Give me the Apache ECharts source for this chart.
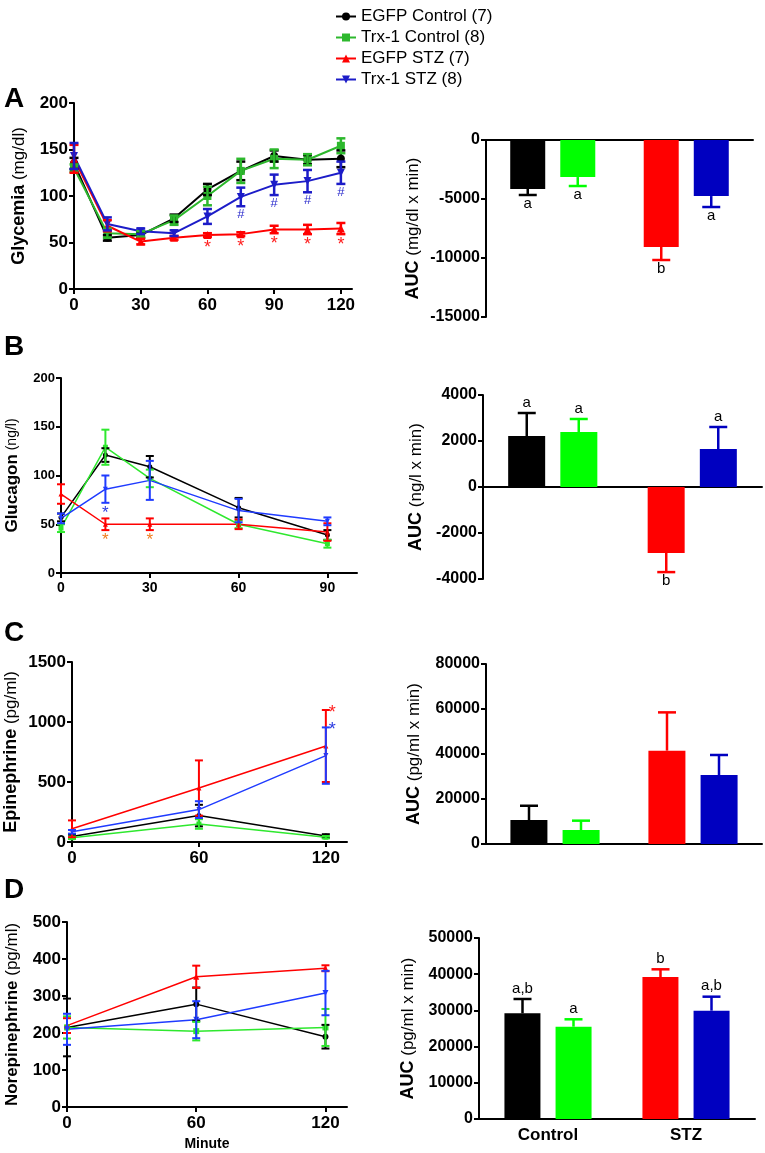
<!DOCTYPE html>
<html><head><meta charset="utf-8">
<script src="https://cdn.jsdelivr.net/npm/echarts@6/dist/echarts.min.js"></script>
<style>html,body{margin:0;padding:0;background:#fff}#c{width:765px;height:1153px}</style>
</head><body><div id="c"></div>
<script>
// ---------------- DATA ----------------
const groupNames = ['EGFP Control (7)', 'Trx-1 Control (8)', 'EGFP STZ (7)', 'Trx-1 STZ (8)'];
const aucCats = ['Control', 'STZ'];

// Panel A - glycemia
const timeA = [0, 15, 30, 45, 60, 75, 90, 105, 120];
const ticksA = [0, 30, 60, 90, 120];
const glyEgfpCtrl = [135, 55, 58, 76, 107, 127, 143, 139, 140];
const glyEgfpCtrlSem = [6, 3, 3, 4, 6, 10, 6, 5, 9];
const glyTrxCtrl = [130, 60, 59, 74, 100, 127, 140, 139, 154];
const glyTrxCtrlSem = [4, 5, 3, 5, 10, 13, 10, 6, 8];
const glyEgfpStz = [140, 68, 51, 55, 58, 59, 64, 64, 65];
const glyEgfpStzSem = [15, 6, 3, 2, 2, 2, 4, 5, 6];
const glyTrxStz = [143, 70, 62, 60, 78, 99, 112, 116, 125];
const glyTrxStzSem = [14, 7, 3, 3, 8, 10, 11, 12, 12];
const glyEgfpStzSig = ['', '', '', '', '*', '*', '*', '*', '*'];
const glyTrxStzSig = ['', '', '', '', '', '#', '#', '#', '#'];
const aucGlyEgfp = [-4150, -9070];
const aucGlyEgfpSem = [510, 1100];
const aucGlyTrx = [-3140, -4750];
const aucGlyTrxSem = [760, 930];
const aucGlyEgfpLetters = ['a', 'b'];
const aucGlyTrxLetters = ['a', 'a'];

// Panel B - glucagon
const timeB = [0, 15, 30, 60, 90];
const ticksB = [0, 30, 60, 90];
const glcEgfpCtrl = [57, 121, 109, 67, 39];
const glcEgfpCtrlSem = [4, 7, 11, 10, 5];
const glcTrxCtrl = [46, 129, 97, 50, 30];
const glcTrxCtrlSem = [4, 18, 9, 4, 4];
const glcEgfpStz = [81, 50, 50, 50, 42];
const glcEgfpStzSem = [10, 6, 6, 5, 9];
const glcTrxStz = [56, 86, 95, 64, 53];
const glcTrxStzSem = [5, 14, 20, 12, 4];
const glcEgfpStzSig = ['', '*', '*', '', ''];
const glcTrxStzSig = ['', '*', '', '', ''];
const aucGlcEgfp = [2217, -2870];
const aucGlcEgfpSem = [1000, 830];
const aucGlcTrx = [2391, 1652];
const aucGlcTrxSem = [566, 957];
const aucGlcEgfpLetters = ['a', 'b'];
const aucGlcTrxLetters = ['a', 'a'];

// Panel C - epinephrine
const timeC = [0, 60, 120];
const ticksC = [0, 60, 120];
const epiEgfpCtrl = [45, 220, 50];
const epiEgfpCtrlSem = [15, 90, 15];
const epiTrxCtrl = [35, 150, 40];
const epiTrxCtrlSem = [10, 40, 10];
const epiEgfpStz = [110, 450, 800];
const epiEgfpStzSem = [70, 230, 300];
const epiTrxStz = [85, 270, 720];
const epiTrxStzSem = [15, 70, 235];
const epiEgfpStzSig = ['', '', '*'];
const epiTrxStzSig = ['', '', '*'];
const aucEpiEgfp = [10670, 41480];
const aucEpiEgfpSem = [6330, 17020];
const aucEpiTrx = [6220, 30670];
const aucEpiTrxSem = [4150, 8890];

// Panel D - norepinephrine
const timeD = [0, 60, 120];
const ticksD = [0, 60, 120];
const nepEgfpCtrl = [215, 278, 190];
const nepEgfpCtrlSem = [78, 45, 32];
const nepTrxCtrl = [215, 205, 215];
const nepTrxCtrlSem = [30, 25, 50];
const nepEgfpStz = [220, 352, 375];
const nepEgfpStzSem = [20, 30, 8];
const nepTrxStz = [210, 236, 308];
const nepTrxStzSem = [42, 50, 60];
const aucNepEgfp = [29200, 39230];
const aucNepEgfpSem = [3950, 2120];
const aucNepTrx = [25500, 29920];
const aucNepTrxSem = [2040, 3870];
const aucNepEgfpLetters = ['a,b', 'b'];
const aucNepTrxLetters = ['a', 'a,b'];

// ---------------- STYLE ----------------
const FONT = "'Liberation Sans', Arial, Helvetica, sans-serif";
const LINE_COLORS_A = ['#000000', '#2db82d', '#ff0000', '#1c1cc8'];
const LINE_COLORS = ['#000000', '#2ee82e', '#ff0000', '#1f3bff'];
const BAR_COLORS_EGFP = ['#000000', '#ff0000'];
const BAR_COLORS_TRX = ['#00ff00', '#0000c0'];
const SYMBOLS = ['circle', 'rect', 'triangle', 'path://M0,0L10,0L5,9Z'];

const grid = [], xAxis = [], yAxis = [], series = [];

function richName(bold, normal, bs, ns) {
  return {
    name: '{b|' + bold + '} {n|' + normal + '}',
    nameLocation: 'middle',
    nameTextStyle: {
      color: '#000', fontFamily: FONT, fontSize: ns,
      rich: {
        b: { fontWeight: 'bold', fontSize: bs, fontFamily: FONT, color: '#000' },
        n: { fontSize: ns, fontFamily: FONT, color: '#000' }
      }
    }
  };
}
const AX_LINE = { lineStyle: { color: '#000', width: 2 } };
const AX_TICK = { show: true, length: 5, lineStyle: { color: '#000', width: 2 } };
const fmt = v => String(v);

function lineErr(gi, xs, ys, sems, sigs, color, sigColor, sigFont, capW, lw, sigMode) {
  return {
    type: 'custom', xAxisIndex: gi, yAxisIndex: gi, z: 4, silent: true, clip: false,
    animation: false,
    data: xs.map((x, i) => [x, ys[i], sems[i]]),
    encode: { x: 0, y: 1 },
    renderItem: (params, api) => {
      const i = params.dataIndex;
      const x = api.value(0), y = api.value(1), e = api.value(2);
      const t = api.coord([x, y + e]), b = api.coord([x, y - e]);
      const st = { stroke: color, lineWidth: lw };
      const ch = [
        { type: 'line', shape: { x1: t[0], y1: t[1], x2: b[0], y2: b[1] }, style: st },
        { type: 'line', shape: { x1: t[0] - capW / 2, y1: t[1], x2: t[0] + capW / 2, y2: t[1] }, style: st },
        { type: 'line', shape: { x1: b[0] - capW / 2, y1: b[1], x2: b[0] + capW / 2, y2: b[1] }, style: st }
      ];
      const s = sigs && sigs[i];
      if (s) {
        if (sigMode === 'below') {
          ch.push({ type: 'text', x: b[0], y: b[1] + 2, style: { text: s, fill: sigColor, font: sigFont, align: 'center', verticalAlign: 'top' } });
        } else {
          ch.push({ type: 'text', x: t[0] + 3, y: t[1] + 3, style: { text: s, fill: sigColor, font: sigFont, align: 'left', verticalAlign: 'middle' } });
        }
      }
      return { type: 'group', children: ch };
    }
  };
}

function addLinePanel(c) {
  const gi = grid.length;
  grid.push(c.grid);
  xAxis.push(Object.assign({
    type: 'value', gridIndex: gi, min: 0, max: c.xMax, interval: c.xTicks[1] - c.xTicks[0],
    axisLine: Object.assign({ onZero: false }, AX_LINE),
    axisTick: Object.assign({ customValues: c.xTicks }, AX_TICK),
    axisLabel: { color: '#000', fontWeight: 'bold', fontSize: c.xFs, fontFamily: FONT, margin: 8, customValues: c.xTicks, formatter: fmt },
    splitLine: { show: false }
  }, c.xName || {}));
  yAxis.push(Object.assign({
    type: 'value', gridIndex: gi, min: 0, max: c.yMax, interval: c.yInt,
    axisLine: Object.assign({ show: true, onZero: false }, AX_LINE),
    axisTick: AX_TICK,
    axisLabel: { color: '#000', fontWeight: 'bold', fontSize: c.yFs, fontFamily: FONT, margin: 6, formatter: fmt },
    splitLine: { show: false },
    nameGap: c.nameGap
  }, richName(c.yBold, c.yNormal, c.nameBs, c.nameNs)));
  c.ys.forEach((ys, k) => {
    series.push({
      type: 'line', name: groupNames[k], xAxisIndex: gi, yAxisIndex: gi,
      data: c.x.map((x, i) => [x, ys[i]]),
      symbol: SYMBOLS[k], symbolSize: c.sym, showSymbol: true,
      lineStyle: { color: c.colors[k], width: c.lw },
      itemStyle: { color: c.colors[k] }, z: 2, animation: false
    });
    series.push(lineErr(gi, c.x, ys, c.sems[k], c.sigs ? c.sigs[k] : null, c.colors[k],
      c.sigColors ? c.sigColors[k] : c.colors[k], c.sigFonts ? c.sigFonts[k] : '', c.capW, c.errLw, c.sigMode));
  });
}

function barErr(gi, vals, sems, letters, cols, off, capW, lw) {
  return {
    type: 'custom', xAxisIndex: gi, yAxisIndex: gi, z: 4, silent: true, clip: false,
    animation: false,
    data: vals.map((v, i) => [i, v, sems[i]]),
    encode: { x: 0, y: 1 },
    renderItem: (params, api) => {
      const i = params.dataIndex;
      const v = vals[i], e = sems[i];
      const base = api.coord([i, v]);
      const end = api.coord([i, v >= 0 ? v + e : v - e]);
      const x = base[0] + off;
      const st = { stroke: cols[i], lineWidth: lw };
      const ch = [
        { type: 'line', shape: { x1: x, y1: base[1], x2: x, y2: end[1] }, style: st },
        { type: 'line', shape: { x1: x - capW / 2, y1: end[1], x2: x + capW / 2, y2: end[1] }, style: st }
      ];
      const L = letters && letters[i];
      if (L) {
        ch.push({ type: 'text', x: x, y: v >= 0 ? end[1] - 3 : end[1] + 1,
          style: { text: L, fill: '#000', font: '15px ' + FONT, align: 'center', verticalAlign: v >= 0 ? 'bottom' : 'top' } });
      }
      return { type: 'group', children: ch };
    }
  };
}

function addBarPanel(c) {
  const gi = grid.length;
  grid.push(c.grid);
  xAxis.push({
    type: 'category', gridIndex: gi, data: aucCats,
    axisLine: Object.assign({ onZero: true }, AX_LINE),
    axisTick: { show: false },
    axisLabel: c.showCats ? { color: '#000', fontWeight: 'bold', fontSize: 17, fontFamily: FONT, margin: 8 } : { show: false },
    splitLine: { show: false }
  });
  yAxis.push(Object.assign({
    type: 'value', gridIndex: gi, min: c.yMin, max: c.yMax, interval: c.yInt,
    axisLine: Object.assign({ show: true, onZero: false }, AX_LINE),
    axisTick: AX_TICK,
    axisLabel: { color: '#000', fontWeight: 'bold', fontSize: 16, fontFamily: FONT, margin: 6, formatter: fmt },
    splitLine: { show: false },
    nameGap: c.nameGap
  }, richName('AUC', c.unit, 18, 17)));
  const half = (c.bw + c.gap) / 2;
  [[c.egfp, c.egfpSem, c.egfpLetters, BAR_COLORS_EGFP, -half],
   [c.trx, c.trxSem, c.trxLetters, BAR_COLORS_TRX, half]].forEach(([vals, sems, letters, cols, off]) => {
    series.push({
      type: 'bar', xAxisIndex: gi, yAxisIndex: gi, barWidth: c.bw,
      barGap: Math.round(c.gap / c.bw * 100) + '%', animation: false,
      data: vals.map((v, i) => ({ value: v, itemStyle: { color: cols[i] } }))
    });
    series.push(barErr(gi, vals, sems, letters, cols, off, 18, 2.5));
  });
}

// ---------------- PANELS ----------------
addLinePanel({
  grid: { left: 74, top: 103, width: 278, height: 186 },
  x: timeA, xMax: 125, xTicks: ticksA, xFs: 17,
  yMax: 200, yInt: 50, yFs: 17,
  yBold: 'Glycemia', yNormal: '(mg/dl)', nameBs: 18, nameNs: 17, nameGap: 46,
  ys: [glyEgfpCtrl, glyTrxCtrl, glyEgfpStz, glyTrxStz],
  sems: [glyEgfpCtrlSem, glyTrxCtrlSem, glyEgfpStzSem, glyTrxStzSem],
  sigs: [null, null, glyEgfpStzSig, glyTrxStzSig],
  sigColors: [null, null, '#ff2020', '#2a2acc'],
  sigFonts: ['', '', '18px ' + FONT, '13px ' + FONT],
  sigMode: 'below',
  colors: LINE_COLORS_A, sym: 8, lw: 2, capW: 9, errLw: 2.5
});
addBarPanel({
  grid: { left: 486, top: 140, width: 267, height: 177 },
  yMin: -15000, yMax: 0, yInt: 5000, unit: '(mg/dl x min)', nameGap: 64,
  egfp: aucGlyEgfp, egfpSem: aucGlyEgfpSem, egfpLetters: aucGlyEgfpLetters,
  trx: aucGlyTrx, trxSem: aucGlyTrxSem, trxLetters: aucGlyTrxLetters,
  bw: 35, gap: 15
});
addLinePanel({
  grid: { left: 61, top: 378, width: 296, height: 195 },
  x: timeB, xMax: 100, xTicks: ticksB, xFs: 14,
  yMax: 200, yInt: 50, yFs: 13,
  yBold: 'Glucagon', yNormal: '(ng/l)', nameBs: 17, nameNs: 14, nameGap: 40,
  ys: [glcEgfpCtrl, glcTrxCtrl, glcEgfpStz, glcTrxStz],
  sems: [glcEgfpCtrlSem, glcTrxCtrlSem, glcEgfpStzSem, glcTrxStzSem],
  sigs: [null, null, glcEgfpStzSig, glcTrxStzSig],
  sigColors: [null, null, '#f07d1f', '#2a3ae0'],
  sigFonts: ['', '', '17px ' + FONT, '17px ' + FONT],
  sigMode: 'below',
  colors: LINE_COLORS, sym: 5, lw: 1.5, capW: 8, errLw: 2
});
addBarPanel({
  grid: { left: 483, top: 395, width: 279, height: 184 },
  yMin: -4000, yMax: 4000, yInt: 2000, unit: '(ng/l x min)', nameGap: 58,
  egfp: aucGlcEgfp, egfpSem: aucGlcEgfpSem, egfpLetters: aucGlcEgfpLetters,
  trx: aucGlcTrx, trxSem: aucGlcTrxSem, trxLetters: aucGlcTrxLetters,
  bw: 37, gap: 15
});
addLinePanel({
  grid: { left: 72, top: 662, width: 275, height: 180 },
  x: timeC, xMax: 130, xTicks: ticksC, xFs: 17,
  yMax: 1500, yInt: 500, yFs: 17,
  yBold: 'Epinephrine', yNormal: '(pg/ml)', nameBs: 18, nameNs: 17, nameGap: 52,
  ys: [epiEgfpCtrl, epiTrxCtrl, epiEgfpStz, epiTrxStz],
  sems: [epiEgfpCtrlSem, epiTrxCtrlSem, epiEgfpStzSem, epiTrxStzSem],
  sigs: [null, null, epiEgfpStzSig, epiTrxStzSig],
  sigColors: [null, null, '#ff2020', '#2a3ae0'],
  sigFonts: ['', '', '18px ' + FONT, '18px ' + FONT],
  sigMode: 'right',
  colors: LINE_COLORS, sym: 5, lw: 1.5, capW: 8, errLw: 2
});
addBarPanel({
  grid: { left: 486, top: 664, width: 276, height: 180 },
  yMin: 0, yMax: 80000, yInt: 20000, unit: '(pg/ml x min)', nameGap: 63,
  egfp: aucEpiEgfp, egfpSem: aucEpiEgfpSem, egfpLetters: null,
  trx: aucEpiTrx, trxSem: aucEpiTrxSem, trxLetters: null,
  bw: 37, gap: 15
});
addLinePanel({
  grid: { left: 67, top: 922, width: 280, height: 185 },
  x: timeD, xMax: 130, xTicks: ticksD, xFs: 17,
  yMax: 500, yInt: 100, yFs: 17,
  yBold: 'Norepinephrine', yNormal: '(pg/ml)', nameBs: 17, nameNs: 17, nameGap: 46,
  xName: { name: 'Minute', nameLocation: 'middle', nameGap: 30, nameTextStyle: { color: '#000', fontWeight: 'bold', fontSize: 14, fontFamily: FONT } },
  ys: [nepEgfpCtrl, nepTrxCtrl, nepEgfpStz, nepTrxStz],
  sems: [nepEgfpCtrlSem, nepTrxCtrlSem, nepEgfpStzSem, nepTrxStzSem],
  sigs: null, sigMode: 'below',
  colors: LINE_COLORS, sym: 6, lw: 1.5, capW: 8, errLw: 2
});
addBarPanel({
  grid: { left: 479, top: 938, width: 276, height: 181 },
  yMin: 0, yMax: 50000, yInt: 10000, unit: '(pg/ml x min)', nameGap: 62,
  egfp: aucNepEgfp, egfpSem: aucNepEgfpSem, egfpLetters: aucNepEgfpLetters,
  trx: aucNepTrx, trxSem: aucNepTrxSem, trxLetters: aucNepTrxLetters,
  bw: 36, gap: 15, showCats: true
});

const panelLetters = [['A', 85], ['B', 333], ['C', 619], ['D', 876]];

const option = {
  backgroundColor: '#fff',
  animation: false,
  textStyle: { fontFamily: FONT },
  grid, xAxis, yAxis, series,
  legend: {
    orient: 'vertical', left: 330, top: 3, itemWidth: 20, itemHeight: 10, itemGap: 4,
    textStyle: { fontSize: 17, fontFamily: FONT, color: '#000', lineHeight: 17 },
    data: groupNames, selectedMode: false
  },
  graphic: panelLetters.map(([t, y]) => ({
    type: 'text', left: 4, top: y,
    style: { text: t, font: 'bold 28px ' + FONT, fill: '#000' }
  }))
};

const chart = echarts.init(document.getElementById('c'), null, { renderer: 'canvas' });
chart.setOption(option);
</script></body></html>
